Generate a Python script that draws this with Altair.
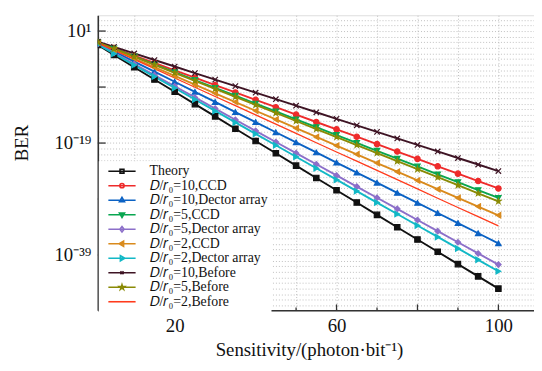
import altair as alt
import pandas as pd

# Sensitivity (photon/bit) sample positions
N = [1, 5, 10, 15, 20, 25, 30, 35, 40, 45, 50, 55, 60, 65, 70, 75, 80, 85, 90, 95, 100]

names = [
    "Theory",
    "𝐷/𝑟₀=10,CCD",
    "𝐷/𝑟₀=10,Dector array",
    "𝐷/𝑟₀=5,CCD",
    "𝐷/𝑟₀=5,Dector array",
    "𝐷/𝑟₀=2,CCD",
    "𝐷/𝑟₀=2,Dector array",
    "𝐷/𝑟₀=10,Before",
    "𝐷/𝑟₀=5,Before",
    "𝐷/𝑟₀=2,Before",
]

# BER exponents (log10 BER)
theory = [-1.5, -3.26, -5.45, -7.65, -9.85, -12.05, -14.24, -16.44, -18.64, -20.83, -23.03,
          -25.23, -27.42, -29.62, -31.82, -34.02, -36.21, -38.41, -40.61, -42.80, -45.0]
ccd10 = [-1.0, -2.05, -3.37, -4.69, -6.01, -7.33, -8.65, -9.96, -11.28, -12.60, -13.92,
         -15.24, -16.55, -17.87, -19.19, -20.51, -21.83, -23.15, -24.46, -25.78, -27.1]
arr10 = [-1.2, -2.64, -4.45, -6.25, -8.05, -9.85, -11.66, -13.46, -15.26, -17.07, -18.87,
         -20.67, -22.48, -24.28, -26.08, -27.89, -29.69, -31.49, -33.29, -35.10, -36.9]
ccd5 = [-1.0, -2.12, -3.53, -4.93, -6.34, -7.74, -9.14, -10.55, -11.95, -13.36, -14.76,
        -16.16, -17.57, -18.97, -20.38, -21.78, -23.18, -24.59, -25.99, -27.40, -28.8]
arr5 = [-1.3, -2.89, -4.88, -6.87, -8.86, -10.85, -12.84, -14.83, -16.82, -18.81, -20.80,
        -22.79, -24.78, -26.77, -28.76, -30.75, -32.74, -34.73, -36.72, -38.71, -40.7]
ccd2 = [-1.1, -2.34, -3.90, -5.46, -7.01, -8.57, -10.12, -11.68, -13.23, -14.79, -16.34,
        -17.90, -19.46, -21.01, -22.57, -24.12, -25.68, -27.23, -28.79, -30.34, -31.9]
arr2 = [-1.4, -3.04, -5.08, -7.13, -9.17, -11.22, -13.26, -15.31, -17.35, -19.40, -21.45,
        -23.49, -25.54, -27.58, -29.63, -31.67, -33.72, -35.76, -37.81, -39.85, -41.9]
before10 = [-0.9, -1.83, -3.0, -4.17, -5.33, -6.5, -7.67, -8.83, -10.0, -11.17, -12.33,
            -13.5, -14.67, -15.83, -17.0, -18.17, -19.33, -20.5, -21.67, -22.83, -24.0]
before5 = [-1.0, -2.15, -3.58, -5.02, -6.45, -7.88, -9.32, -10.75, -12.19, -13.62, -15.06,
           -16.49, -17.93, -19.36, -20.79, -22.23, -23.66, -25.10, -26.53, -27.97, -29.4]
before2 = [-1.1, -2.42, -4.07, -5.72, -7.38, -9.03, -10.68, -12.33, -13.98, -15.63, -17.28,
           -18.94, -20.59, -22.24, -23.89, -25.54, -27.19, -28.85, -30.50, -32.15, -33.8]

series_vals = [theory, ccd10, arr10, ccd5, arr5, ccd2, arr2, before10, before5, before2]

colors = ["#111111", "#ee2b2b", "#0b62c4", "#08a650", "#8c6fc9",
          "#d98a1c", "#12b8c6", "#3e1424", "#8a8a05", "#ff3b1c"]

STAR = ("M0,-1L0.22,-0.31L0.95,-0.31L0.36,0.12L0.59,0.81L0,0.38L-0.59,0.81"
        "L-0.36,0.12L-0.95,-0.31L-0.22,-0.31Z")
XMARK = "M-1,-1L1,1M-1,1L1,-1"
NONE = "M0,0"
point_shapes = ["square", "circle", "triangle-up", "triangle-down", "diamond",
                "triangle-left", "triangle-right", XMARK, STAR, NONE]

# legend symbols: a horizontal line segment with the marker in the middle
L = "M-2.3,0H2.3"
legend_shapes = [
    L + "M-0.33,-0.33H0.33V0.33H-0.33Z",
    L + "M0.36,0A0.36,0.36 0 1,1 -0.36,0A0.36,0.36 0 1,1 0.36,0Z",
    L + "M0,-0.47L0.43,0.27H-0.43Z",
    L + "M0,0.47L0.43,-0.27H-0.43Z",
    L + "M0,-0.47L0.36,0L0,0.47L-0.36,0Z",
    L + "M-0.47,0L0.27,-0.43V0.43Z",
    L + "M0.47,0L-0.27,-0.43V0.43Z",
    L + "M-0.26,-0.26L0.26,0.26M-0.26,0.26L0.26,-0.26",
    L + ("M0,-0.43L0.095,-0.133L0.41,-0.133L0.155,0.05L0.255,0.35L0,0.165L-0.255,0.35"
         "L-0.155,0.05L-0.41,-0.133L-0.095,-0.133Z"),
    L,
]

x_grid = [10, 20, 30, 40, 50, 60, 70, 80, 90, 100]
x_major_ticks = [20, 40, 60, 80, 100]
x_minor_ticks = [10, 30, 50, 70, 90]
y_grid_exp = list(range(-48, 4))
y_major_exp = [1, -9, -19, -29, -39]

rows = []
for name, vals in zip(names, series_vals):
    for n, e in zip(N, vals):
        rows.append({"n": n, "ber": 10.0 ** e, "series": name})
df = pd.DataFrame(rows)

W, H = 442, 299
FONT = "Liberation Serif"

xscale = alt.Scale(domain=[1, 108.8], zero=False, nice=False)
yscale = alt.Scale(type="log", domain=[10 ** -48.87, 10 ** 3.82], nice=False)

x_axis = alt.Axis(
    values=x_grid, grid=True, gridDash=[1, 2], gridColor="#b0b0b0", gridWidth=0.8,
    ticks=False, labelExpr="(datum.value==20||datum.value==60||datum.value==100)?datum.label:''",
    labelFontSize=19, labelPadding=6, labelFont=FONT, labelColor="#111",
    title="Sensitivity/(photon·bit⁻¹)", titleFont=FONT, titleFontSize=19,
    titleFontWeight="normal", titleColor="#111", titlePadding=6, titleX=214,
    domainColor="#333", domainWidth=1.6,
)
ylabel = ("round(log(datum.value)/LN10)==1?'10¹':"
          "round(log(datum.value)/LN10)==-19?'10⁻¹⁹':"
          "round(log(datum.value)/LN10)==-39?'10⁻³⁹':''")
y_axis = alt.Axis(
    values=[10.0 ** k for k in y_grid_exp], grid=True, gridDash=[1, 2], gridColor="#b0b0b0",
    gridWidth=0.8, ticks=False, labelExpr=ylabel, labelFontSize=19, labelFont=FONT,
    labelColor="#111", labelPadding=7, labelOverlap=False,
    title="BER", titleFont=FONT, titleFontSize=19, titleFontWeight="normal",
    titleColor="#111", titleX=-77, titleY=129, titleAlign="center", titleBaseline="middle",
    domainColor="#333", domainWidth=1.6,
)

color_scale = alt.Scale(domain=names, range=colors)

lines = alt.Chart(df).mark_line(clip=True).encode(
    x=alt.X("n:Q", scale=xscale, axis=x_axis),
    y=alt.Y("ber:Q", scale=yscale, axis=y_axis),
    color=alt.Color("series:N", scale=color_scale, legend=None),
    strokeWidth=alt.condition(alt.datum.series == names[-1], alt.value(1.3), alt.value(1.9)),
    detail="series:N",
)

points = alt.Chart(df).transform_filter(
    alt.datum.series != names[-1]
).mark_point(filled=True, size=30, strokeWidth=1.2, opacity=1, clip=True).encode(
    x="n:Q",
    y="ber:Q",
    color=alt.Color("series:N", scale=alt.Scale(domain=names, range=colors), legend=None),
    stroke=alt.Stroke("series:N", scale=alt.Scale(domain=names, range=colors), legend=None),
    shape=alt.Shape("series:N", scale=alt.Scale(domain=names, range=point_shapes), legend=None),
)

xt_major = alt.Chart(pd.DataFrame({"v": x_major_ticks})).mark_rule(
    color="#333", strokeWidth=1.3).encode(x="v:Q", y=alt.value(H), y2=alt.value(H - 6))
xt_minor = alt.Chart(pd.DataFrame({"v": x_minor_ticks})).mark_rule(
    color="#333", strokeWidth=1.3).encode(x="v:Q", y=alt.value(H), y2=alt.value(H - 3))
yt_major = alt.Chart(pd.DataFrame({"v": [10.0 ** k for k in y_major_exp]})).mark_rule(
    color="#333", strokeWidth=1.3).encode(y="v:Q", x=alt.value(0), x2=alt.value(8))

legend_layer = alt.Chart(df).mark_point(filled=True, opacity=0).encode(
    x="n:Q",
    y="ber:Q",
    color=alt.Color("series:N", scale=alt.Scale(domain=names, range=colors),
                    legend=alt.Legend(
                        title=None, orient="none", legendX=1, legendY=148,
                        fillColor="white", padding=3, rowPadding=0.7,
                        symbolSize=144, symbolStrokeWidth=1.6, symbolOpacity=1,
                        symbolOffset=13.5,
                        labelFont=FONT, labelFontSize=14, labelColor="#111",
                        labelOffset=21, labelLimit=400,
                    )),
    stroke=alt.Stroke("series:N", scale=alt.Scale(domain=names, range=colors)),
    shape=alt.Shape("series:N", scale=alt.Scale(domain=names, range=legend_shapes)),
)

chart = alt.layer(
    lines, points, xt_major, xt_minor, yt_major, legend_layer
).resolve_scale(
    color="independent", stroke="independent", shape="independent"
).properties(
    width=W, height=H,
    padding={"left": 91, "top": 5, "right": 0, "bottom": 51},
    autosize=alt.AutoSizeParams(type="none"),
).configure_view(stroke=None).configure(background="white")

chart.save("out.html", embed_options={"renderer": "svg", "actions": False})
